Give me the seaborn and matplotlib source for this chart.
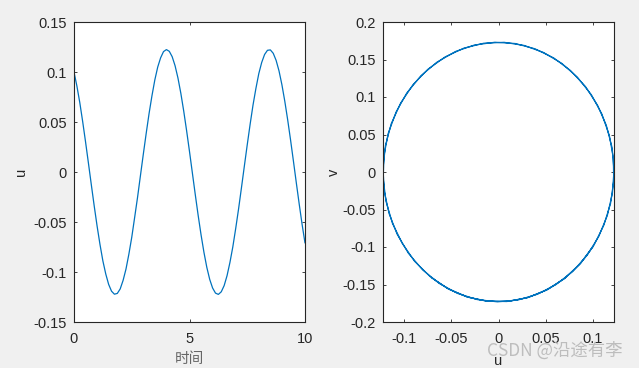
import matplotlib
matplotlib.use("Agg")
import matplotlib.pyplot as plt
import seaborn as sns
import pandas as pd

# values
t = [0, 0.125, 0.25, 0.375, 0.5, 0.625, 0.75, 0.875, 1.0, 1.125, 1.25, 1.375, 1.5, 1.625,
     1.75, 1.875, 2.0, 2.125, 2.25, 2.375, 2.5, 2.625, 2.75, 2.875, 3.0, 3.125, 3.25, 3.375,
     3.5, 3.625, 3.75, 3.875, 4.0, 4.125, 4.25, 4.375, 4.5, 4.625, 4.75, 4.875, 5.0, 5.125,
     5.25, 5.375, 5.5, 5.625, 5.75, 5.875, 6.0, 6.125, 6.25, 6.375, 6.5, 6.625, 6.75, 6.875,
     7.0, 7.125, 7.25, 7.375, 7.5, 7.625, 7.75, 7.875, 8.0, 8.125, 8.25, 8.375, 8.5, 8.625,
     8.75, 8.875, 9.0, 9.125, 9.25, 9.375, 9.5, 9.625, 9.75, 9.875, 10.0]
u = [0.1000, 0.0860, 0.0695, 0.0505, 0.0301, 0.0088, -0.0128, -0.0340, -0.0541, -0.0725,
     -0.0889, -0.1020, -0.1124, -0.1192, -0.1222, -0.1214, -0.1169, -0.1084, -0.0971, -0.0822,
     -0.0653, -0.0455, -0.0255, -0.0038, 0.0177, 0.0386, 0.0585, 0.0763, 0.0922, 0.1050,
     0.1142, 0.1204, 0.1224, 0.1207, 0.1153, 0.1063, 0.0940, 0.0787, 0.0609, 0.0413,
     0.0205, -0.0011, -0.0226, -0.0434, -0.0628, -0.0803, -0.0954, -0.1074, -0.1160, -0.1211,
     -0.1224, -0.1198, -0.1136, -0.1037, -0.0905, -0.0749, -0.0565, -0.0368, -0.0156, 0.0060,
     0.0273, 0.0478, 0.0670, 0.0836, 0.0984, 0.1095, 0.1175, 0.1217, 0.1221, 0.1187,
     0.1116, 0.1011, 0.0873, 0.0708, 0.0522, 0.0320, 0.0107, -0.0110, -0.0322, -0.0525, -0.0710]
v = [-0.0999, -0.1232, -0.1425, -0.1577, -0.1678, -0.1727, -0.1722, -0.1663, -0.1552, -0.1394,
     -0.1191, -0.0951, -0.0684, -0.0392, -0.0089, 0.0216, 0.0514, 0.0803, 0.1055, 0.1283,
     0.1464, 0.1607, 0.1693, 0.1730, 0.1713, 0.1643, 0.1521, 0.1353, 0.1139, 0.0889,
     0.0624, 0.0324, 0.0020, -0.0285, -0.0581, -0.0858, -0.1109, -0.1326, -0.1501, -0.1630,
     -0.1707, -0.1731, -0.1701, -0.1619, -0.1486, -0.1306, -0.1085, -0.0830, -0.0552, -0.0255,
     0.0050, 0.0353, 0.0646, 0.0919, 0.1166, 0.1369, 0.1535, 0.1651, 0.1717, 0.1729,
     0.1687, 0.1593, 0.1449, 0.1264, 0.1030, 0.0774, 0.0485, 0.0186, -0.0120, -0.0422,
     -0.0710, -0.0977, -0.1213, -0.1412, -0.1566, -0.1671, -0.1725, -0.1724, -0.1670, -0.1564, -0.1410]

left_yticks = [-0.15, -0.1, -0.05, 0, 0.05, 0.1, 0.15]
left_xticks = [0, 5, 10]
right_yticks = [-0.2, -0.15, -0.1, -0.05, 0, 0.05, 0.1, 0.15, 0.2]
right_xticks = [-0.1, -0.05, 0, 0.05, 0.1]


def fmt(x):
    return f"{x:g}"


sns.set_style("white")
plt.rcParams['font.family'] = ['Liberation Sans', 'Noto Sans CJK SC', 'DejaVu Sans']

df = pd.DataFrame({"t": t, "u": u, "v": v})
line_color = "#0072BD"
txt = "#262626"

fig = plt.figure(figsize=(6.39, 3.68), dpi=100, facecolor="#f0f0f0")
W, H = 639, 368
ax1 = fig.add_axes([74 / W, 1 - 322 / H, (305 - 74) / W, 300 / H])
ax2 = fig.add_axes([383 / W, 1 - 322 / H, (614 - 383) / W, 300 / H])

sns.lineplot(data=df, x="t", y="u", ax=ax1, color=line_color, linewidth=0.9, sort=False)
sns.lineplot(data=df, x="u", y="v", ax=ax2, color=line_color, linewidth=0.9, sort=False)

ax1.set_xlim(0, 10)
ax1.set_ylim(-0.15, 0.15)
ax1.set_xticks(left_xticks)
ax1.set_xticklabels([fmt(x) for x in left_xticks])
ax1.set_yticks(left_yticks)
ax1.set_yticklabels([fmt(y) for y in left_yticks])

ax2.set_xlim(min(u), max(u))
ax2.set_ylim(-0.2, 0.2)
ax2.set_xticks(right_xticks)
ax2.set_xticklabels([fmt(x) for x in right_xticks])
ax2.set_yticks(right_yticks)
ax2.set_yticklabels([fmt(y) for y in right_yticks])

for ax in (ax1, ax2):
    ax.set_facecolor("white")
    for s in ax.spines.values():
        s.set_color(txt)
        s.set_linewidth(0.8)
        s.set_visible(True)
    ax.tick_params(direction="in", length=2.5, width=0.6, colors=txt, labelsize=10.5,
                   top=True, right=True, bottom=True, left=True)
    ax.tick_params(axis="x", pad=7)
    ax.tick_params(axis="y", pad=5)

ax1.set_xlabel("时间", fontsize=10.5, color="#666666", family=['Noto Sans CJK SC'], labelpad=4.5)
ax1.set_ylabel("u", fontsize=10.5, color=txt, labelpad=4)
ax2.set_xlabel("u", fontsize=10.5, color=txt, labelpad=6)
ax2.set_ylabel("v", fontsize=10.5, color=txt, labelpad=1)

fig.text(487 / W, 1 - 351 / H, "CSDN @沿途有李", fontsize=12.5, color="#b8b8b8",
         family=['Noto Sans CJK SC', 'DejaVu Sans'], va="center", ha="left", alpha=0.9)

fig.savefig("out.png", dpi=100, facecolor=fig.get_facecolor())
